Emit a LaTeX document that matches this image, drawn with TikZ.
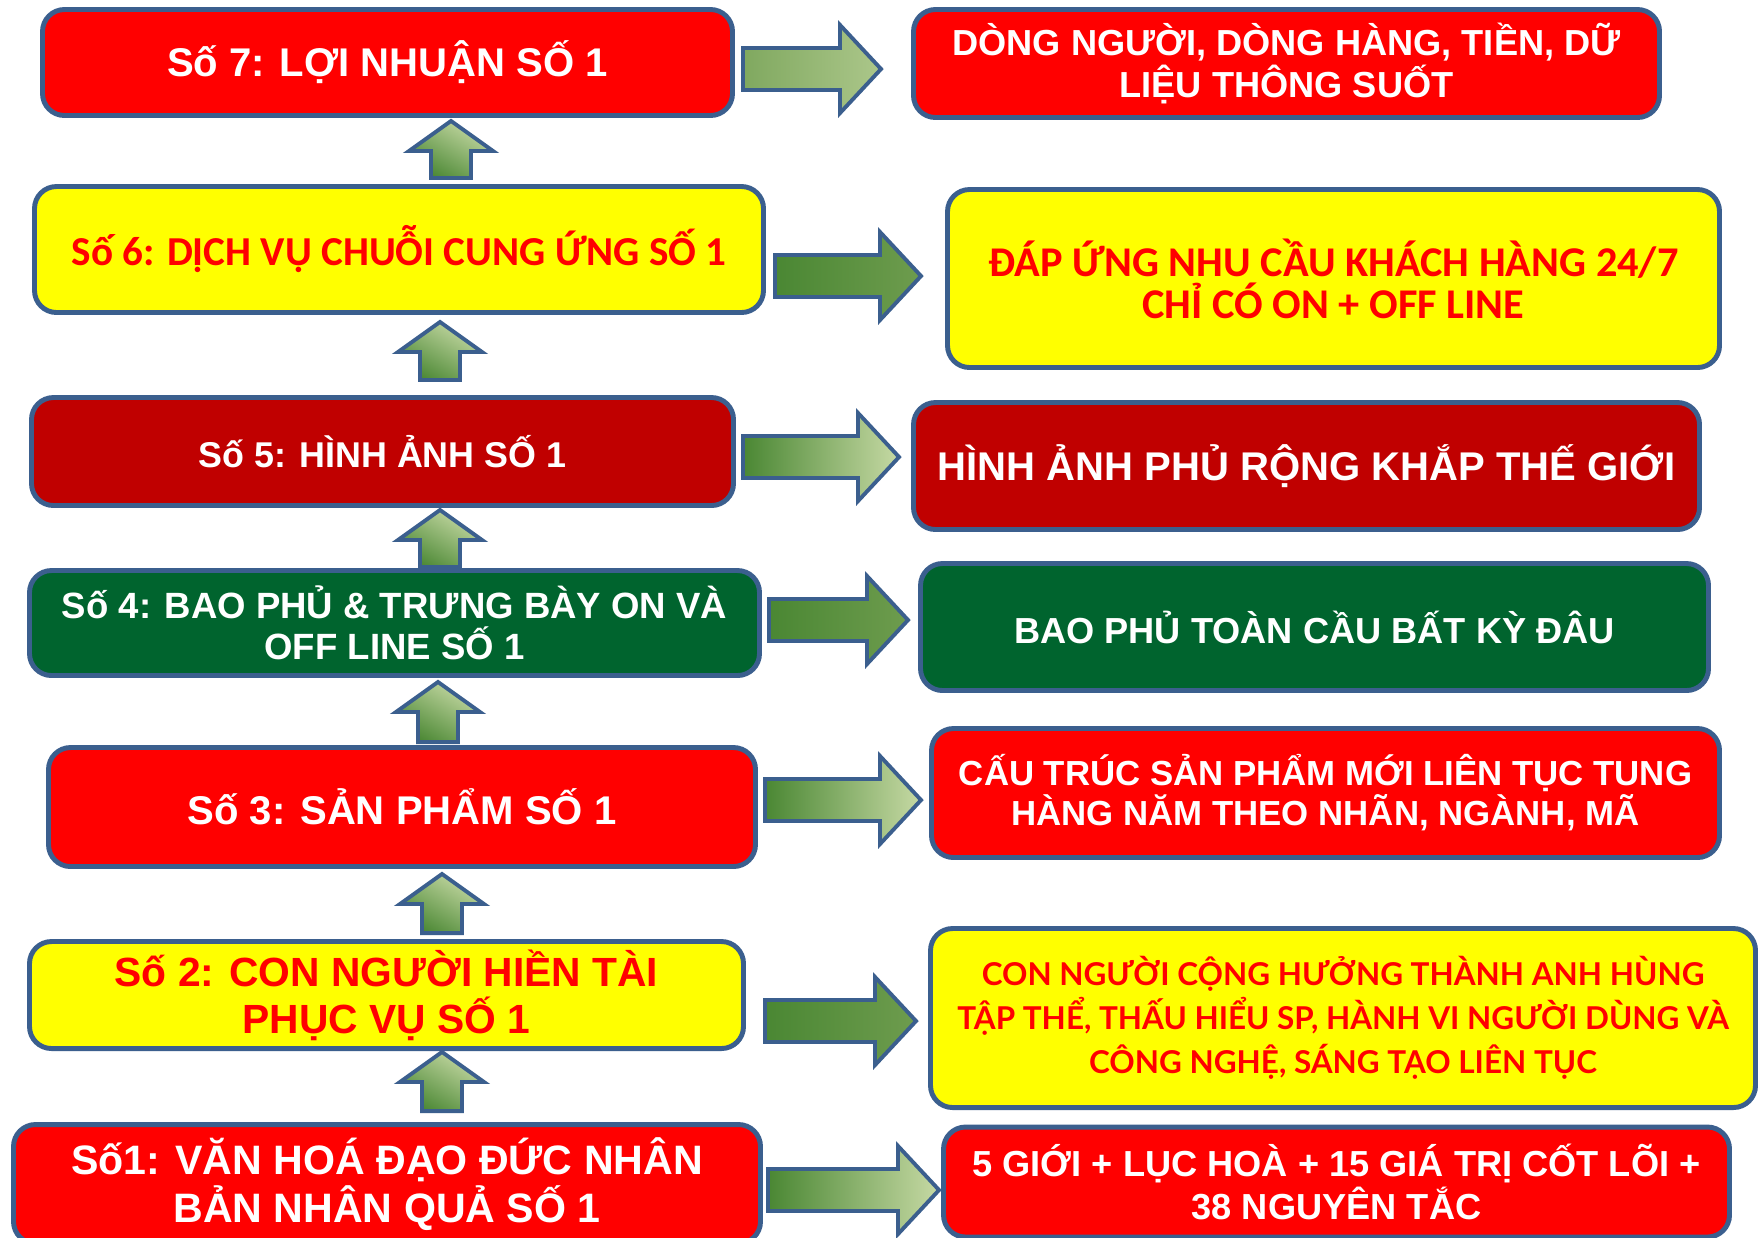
\documentclass[tikz,border=0pt]{standalone}
\usepackage{fontspec}
\setmainfont{Liberation Sans}
\newfontfamily\calfont{Carlito}
\newfontfamily\latofont{Lato}
\usetikzlibrary{calc}

\definecolor{boxline}{HTML}{3B5F8E}
\definecolor{redfill}{HTML}{FF0000}
\definecolor{darkred}{HTML}{C00000}
\definecolor{darkgreen}{HTML}{00642E}
\definecolor{yellowfill}{HTML}{FFFF00}
\definecolor{gdark}{HTML}{4A8733}
\definecolor{gmid}{HTML}{6E9C4E}
\definecolor{glight}{HTML}{C6D9A4}

\tikzset{
  box/.style={draw=boxline, line width=1.4pt, rounded corners=0.22cm, align=center, inner sep=0pt, text=white},
  redbox/.style={box, fill=redfill},
  darkredbox/.style={box, fill=darkred},
  greenbox/.style={box, fill=darkgreen},
  yellowbox/.style={box, fill=yellowfill, text=redfill},
  fs/.style 2 args={font=\fontsize{#1}{#2}\selectfont\bfseries},
  % block arrows between boxes
  flowright/.style={draw=boxline, line width=1.1pt, to path={let \p1=(\tikztostart), \p2=(\tikztotarget) in
    (\x1,\y1+0.21cm) -- (\x2-0.41cm,\y1+0.21cm) -- (\x2-0.41cm,\y1+0.44cm) -- (\x2,\y1)
    -- (\x2-0.41cm,\y1-0.44cm) -- (\x2-0.41cm,\y1-0.21cm) -- (\x1,\y1-0.21cm) -- cycle}},
  flowup/.style={draw=boxline, line width=1.1pt, bottom color=gdark, top color=glight, shading angle=-30,
    to path={let \p1=(\tikztostart), \p2=(\tikztotarget) in
    (\x1-0.2cm,\y1) -- (\x1-0.2cm,\y2-0.3cm) -- (\x1-0.42cm,\y2-0.3cm) -- (\x1,\y2)
    -- (\x1+0.42cm,\y2-0.3cm) -- (\x1+0.2cm,\y2-0.3cm) -- (\x1+0.2cm,\y1) -- cycle}},
  lightflow/.style={flowright, left color=gdark, right color=glight},
  darkflow/.style={flowright, left color=gdark, right color=gmid}
}

\begin{document}
\begin{tikzpicture}
\fill[white] (0,0) rectangle (17.62,-12.37);
\useasboundingbox (0,0) rectangle (17.62,-12.37);

% left column
\node[redbox, minimum width=6.9cm, minimum height=1.06cm, fs={11.4}{13}] (so7) at (3.875,-0.625) {Số 7: LỢI NHUẬN SỐ 1};
\node[yellowbox, minimum width=7.29cm, minimum height=1.26cm, font=\calfont\fontsize{11.7}{13}\selectfont\bfseries] (so6) at (3.99,-2.495) {Số 6: DỊCH VỤ CHUỖI CUNG ỨNG SỐ 1};
\node[darkredbox, minimum width=7.02cm, minimum height=1.08cm, fs={10.2}{12}] (so5) at (3.825,-4.515) {Số 5: HÌNH ẢNH SỐ 1};
\node[greenbox, minimum width=7.3cm, minimum height=1.05cm, fs={10.4}{11.7}] (so4) at (3.945,-6.23) {Số 4: BAO PHỦ \& TRƯNG BÀY ON VÀ\\OFF LINE SỐ 1};
\node[redbox, minimum width=7.07cm, minimum height=1.19cm, fs={11.4}{13}] (so3) at (4.02,-8.07) {Số 3: SẢN PHẨM SỐ 1};
\node[yellowbox, minimum width=7.14cm, minimum height=1.07cm, fs={11.6}{13.4}] (so2) at (3.865,-9.95) {Số 2: CON NGƯỜI HIỀN TÀI\\PHỤC VỤ SỐ 1};
\node[redbox, minimum width=7.47cm, minimum height=1.19cm, fs={11.7}{13.7}] (so1) at (3.87,-11.84) {Số1: VĂN HOÁ ĐẠO ĐỨC NHÂN\\BẢN NHÂN QUẢ SỐ 1};

% right column
\node[redbox, minimum width=7.46cm, minimum height=1.08cm, fs={10.3}{12.2}] (kq7) at (12.865,-0.635) {DÒNG NGƯỜI, DÒNG HÀNG, TIỀN, DỮ\\LIỆU THÔNG SUỐT};
\node[yellowbox, minimum width=7.72cm, minimum height=1.78cm, font=\calfont\fontsize{12.05}{11.9}\selectfont\bfseries] (kq6) at (13.335,-2.785) {ĐÁP ỨNG NHU CẦU KHÁCH HÀNG 24/7\\CHỈ CÓ ON + OFF LINE};
\node[darkredbox, minimum width=7.86cm, minimum height=1.27cm, fs={11.4}{13}] (kq5) at (13.065,-4.66) {HÌNH ẢNH PHỦ RỘNG KHẮP THẾ GIỚI};
\node[greenbox, minimum width=7.88cm, minimum height=1.27cm, fs={10.3}{12}] (kq4) at (13.145,-6.27) {BAO PHỦ TOÀN CẦU BẤT KỲ ĐÂU};
\node[redbox, minimum width=7.88cm, minimum height=1.29cm, fs={9.9}{11.4}] (kq3) at (13.255,-7.93) {CẤU TRÚC SẢN PHẨM MỚI LIÊN TỤC TUNG\\HÀNG NĂM THEO NHÃN, NGÀNH, MÃ};
\node[yellowbox, minimum width=8.25cm, minimum height=1.79cm, font=\latofont\fontsize{8.95}{12.5}\selectfont\bfseries] (kq2) at (13.43,-10.18) {CON NGƯỜI CỘNG HƯỞNG THÀNH ANH HÙNG\\TẬP THỂ, THẤU HIỂU SP, HÀNH VI NGƯỜI DÙNG VÀ\\CÔNG NGHỆ, SÁNG TẠO LIÊN TỤC};
\node[redbox, minimum width=7.86cm, minimum height=1.1cm, fs={10.3}{12.2}] (kq1) at (13.365,-11.82) {5 GIỚI + LỤC HOÀ + 15 GIÁ TRỊ CỐT LÕI +\\38 NGUYÊN TẮC};

% up arrows
\draw[flowup] ([shift={(0.52,0.06)}]so6.north) to ([yshift=-0.03cm]so7.south);
\draw[flowup] ([shift={(0.575,0.15)}]so5.north) to ([yshift=-0.07cm]so6.south);
\draw[flowup] ([shift={(0.455,0.01)}]so4.north) to ([yshift=-0.02cm]so5.south);
\draw[flowup] ([shift={(0.36,0.03)}]so3.north) to ([yshift=-0.04cm]so4.south);
\draw[flowup] ([shift={(0.555,0.06)}]so2.north) to ([yshift=-0.05cm]so3.south);
\draw[flowup] ([shift={(0.55,0.11)}]so1.north) to ([yshift=-0.01cm]so2.south);

% right arrows
\draw[flowright, left color=gmid!80!glight, right color=glight!70!gmid] ([shift={(0.08,-0.065)}]so7.east) to ([xshift=-0.3cm]kq7.west);
\draw[darkflow] ([shift={(0.09,-0.265)}]so6.east) to ([xshift=-0.24cm]kq6.west);
\draw[lightflow] ([shift={(0.07,-0.055)}]so5.east) to ([xshift=-0.12cm]kq5.west);
\draw[darkflow] ([shift={(0.07,0.03)}]so4.east) to ([xshift=-0.1cm]kq4.west);
\draw[lightflow] ([shift={(0.07,0.07)}]so3.east) to ([xshift=-0.08cm]kq3.west);
\draw[darkflow] ([shift={(0.19,-0.26)}]so2.east) to ([xshift=-0.12cm]kq2.west);
\draw[lightflow] ([shift={(0.05,-0.06)}]so1.east) to ([xshift=-0.02cm]kq1.west);
\end{tikzpicture}
\end{document}
